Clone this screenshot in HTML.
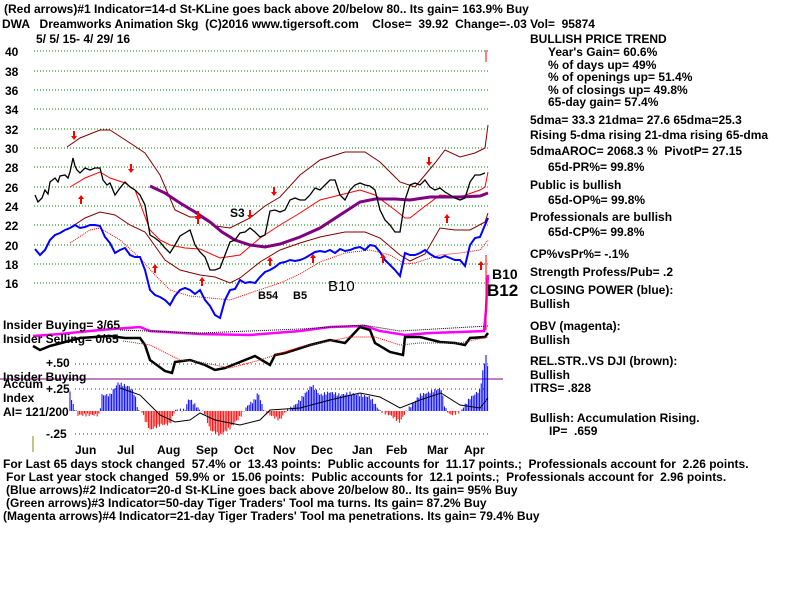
<!DOCTYPE html>
<html><head><meta charset="utf-8"><style>
html,body{margin:0;padding:0;background:#fff;width:800px;height:600px;overflow:hidden}
svg text{font-family:"Liberation Sans",Arial,sans-serif;font-weight:bold;font-size:12px;fill:#000;white-space:pre}
</style></head><body>
<svg id="s" width="800" height="600" viewBox="0 0 800 600" xmlns="http://www.w3.org/2000/svg" xml:space="preserve">
<rect width="800" height="600" fill="#fff"/>
<g stroke="#080" stroke-width="1" stroke-dasharray="1,2">
<line x1="34" y1="51" x2="490" y2="51"/><line x1="34" y1="71" x2="490" y2="71"/>
<line x1="34" y1="90" x2="490" y2="90"/><line x1="34" y1="109" x2="490" y2="109"/>
<line x1="34" y1="129" x2="490" y2="129"/><line x1="34" y1="148" x2="490" y2="148"/>
<line x1="34" y1="167" x2="490" y2="167"/><line x1="34" y1="187" x2="490" y2="187"/>
<line x1="34" y1="206" x2="490" y2="206"/><line x1="34" y1="225" x2="490" y2="225"/>
<line x1="34" y1="245" x2="490" y2="245"/><line x1="34" y1="264" x2="490" y2="264"/>
<line x1="34" y1="283" x2="490" y2="283"/>
</g>
<g>
<text x="5" y="56">40</text><text x="5" y="76">38</text><text x="5" y="95">36</text><text x="5" y="114">34</text>
<text x="5" y="134">32</text><text x="5" y="153">30</text><text x="5" y="172">28</text><text x="5" y="192">26</text>
<text x="5" y="211">24</text><text x="5" y="230">22</text><text x="5" y="250">20</text><text x="5" y="269">18</text>
<text x="5" y="288">16</text>
</g>
<g fill="none">
<polyline stroke="#800000" stroke-width="1" points="67,147 80,138 100,130 110,130 130,143 145,153 160,175 175,210 190,217 200,217 215,226 230,228 250,218 265,206 280,197 300,175 320,160 345,152 365,152 380,162 400,182 415,187 435,163 445,150 460,157 475,153 485,148 488,125"/>
<polyline stroke="#800000" stroke-width="1" points="67,230 85,218 100,212 115,215 130,225 145,232 165,260 180,270 200,275 215,277 230,283 240,278 260,262 280,250 300,243 320,237 345,232 365,232 380,238 400,255 410,261 425,254 440,228 455,230 470,230 485,222 488,213"/>
<polyline stroke="#f00" stroke-width="1" points="70,187 85,178 100,172 110,178 125,183 135,190 150,230 160,240 170,245 185,248 200,249 220,258 240,255 260,238 280,225 300,213 320,200 360,190 375,195 395,210 405,218 410,218 420,210 440,195 460,197 480,190 485,187 488,172"/>
<polyline stroke="#f00" stroke-width="1" stroke-dasharray="1,1" points="70,243 90,230 100,228 120,240 140,258 155,275 170,290 190,296 210,298 230,300 250,293 280,283 300,274 320,262 345,253 370,250 390,255 405,264 415,263 440,255 460,253 480,250 488,240"/>
<polyline stroke="#800080" stroke-width="3" points="150,186 165,193 180,203 195,212 210,222 222,232 235,240 250,245 265,247 280,244 300,237 320,228 340,215 360,202 375,199 395,199 410,200 430,197 460,197 480,196 488,193"/>
<polyline stroke="#000" stroke-width="1.3" points="35,195 38,202 42,198 45,190 48,194 50,182 55,178 58,182 60,176 65,175 68,178 70,172 73,158 75,166 77,170 80,173 85,168 90,170 95,168 100,168 103,180 107,185 110,183 115,195 120,188 125,182 130,187 135,190 140,195 145,205 150,235 155,238 160,242 165,248 170,253 175,245 180,236 185,233 190,230 195,245 200,252 205,257 210,270 215,270 220,268 225,255 230,242 235,240 240,233 245,232 250,228 255,232 260,237 265,235 270,211 275,210 280,212 285,210 290,200 295,198 300,200 305,200 310,195 315,188 320,190 325,185 330,180 335,180 340,195 345,200 350,190 355,185 360,183 365,185 370,186 375,190 380,210 385,220 390,225 395,232 400,232 405,200 410,185 415,183 420,185 425,180 430,187 435,190 440,188 445,192 450,195 455,198 460,200 465,198 470,182 475,175 480,175 485,173"/>
<polyline stroke="#00f" stroke-width="2" points="35,249 40,255 45,250 50,240 55,235 60,233 65,230 70,228 75,225 80,228 85,227 90,225 95,225 100,226 105,237 110,243 115,253 120,250 125,248 130,255 135,257 140,257 145,270 150,290 155,295 160,297 165,300 170,305 175,296 180,290 185,288 190,290 195,294 200,290 205,300 210,306 215,315 220,318 225,300 230,290 235,289 240,280 245,283 250,282 255,283 260,277 265,272 270,270 275,267 280,263 285,262 290,260 295,261 300,260 305,258 310,255 315,252 320,251 325,252 330,250 335,253 340,249 345,251 350,250 355,248 360,247 365,250 370,245 375,246 380,252 385,260 390,265 395,270 400,276 405,253 410,255 415,255 420,253 425,250 430,254 435,257 440,258 445,256 450,258 455,260 460,260 465,266 470,245 475,238 480,237 485,225 488,218"/>
<polyline stroke="#f0f" stroke-width="2.5" points="33,336 60,334 100,330 140,327 150,331 200,334 250,335 300,331 330,327 365,326 380,331 405,335 430,333 460,332 484,331 486,310 487,290 488,275"/>
<polyline stroke="#000" stroke-width="1" stroke-dasharray="1,1" points="120,330 200,333 300,329 363,325 400,331 488,326"/>
<polyline stroke="#000" stroke-width="2.5" points="33,346 40,350 50,346 80,338 110,336 125,338 140,338 145,345 150,360 165,371 172,373 175,362 190,360 205,365 215,370 225,368 240,362 255,356 270,365 275,355 285,353 310,345 330,340 345,343 360,327 370,330 375,343 390,352 403,355 405,337 420,337 440,342 455,343 465,345 470,338 485,337 488,333"/>
<polyline stroke="#f00" stroke-width="1" stroke-dasharray="1,1" points="123,341 150,345 180,360 200,362 230,368 260,360 300,347 350,337 375,337 400,345 420,343 460,343 488,337"/>
</g>
<line x1="486" y1="50" x2="486" y2="62" stroke="#f00"/>
<line x1="486" y1="255" x2="486" y2="330" stroke="#f00"/>
<g stroke="#800080" stroke-width="1" stroke-dasharray="1,3">
<line x1="75" y1="364" x2="490" y2="364"/><line x1="75" y1="389" x2="490" y2="389"/><line x1="75" y1="434" x2="490" y2="434"/>
</g>
<line x1="0" y1="379" x2="503" y2="379" stroke="#800080"/>
<g id="ai"></g>
<polyline fill="none" stroke="#000" stroke-width="1" points="120,388 140,395 160,415 175,422 190,420 200,413 215,420 240,425 260,420 270,410 300,408 330,400 360,393 380,397 400,408 420,400 441,393 460,405 480,408 488,398"/>
<line x1="33" y1="436" x2="33" y2="452" stroke="#880"/>
<g>
<text x="4" y="13">(Red arrows)#1 Indicator=14-d St-KLine goes back above 20/below 80.. Its gain= 163.9% Buy</text>
<text x="2" y="28">DWA   Dreamworks Animation Skg  (C)2016 www.tigersoft.com    Close=  39.92  Change=-.03 Vol=  95874</text>
<text x="36" y="43">5/ 5/ 15- 4/ 29/ 16</text>
<text x="230" y="217">S3</text>
<text x="258" y="299" style="font-size:11px">B54</text>
<text x="293" y="299" style="font-size:11px">B5</text>
<text x="328" y="291" style="font-size:15px;font-weight:normal">B10</text>
<text x="487" y="296" style="font-size:17px">B12</text>
<text x="492" y="279" style="font-size:14px">B10</text>
<text x="3" y="329">Insider Buying= 3/65</text>
<text x="3" y="343">Insider Selling= 0/65</text>
<text x="46" y="367">+.50</text>
<text x="46" y="393">+.25</text>
<text x="46" y="438">-.25</text>
<text x="3" y="381">Insider Buying</text>
<text x="3" y="388">Accum</text>
<text x="3" y="402">Index</text>
<text x="3" y="416">AI= 121/200</text>
<text x="75" y="454">Jun</text><text x="117" y="454">Jul</text><text x="157" y="454">Aug</text><text x="196" y="454">Sep</text><text x="234" y="454">Oct</text><text x="273" y="454">Nov</text><text x="311" y="454">Dec</text><text x="352" y="454">Jan</text><text x="386" y="454">Feb</text><text x="427" y="454">Mar</text><text x="464" y="454">Apr</text>
<text x="3" y="468">For Last 65 days stock changed  57.4% or  13.43 points:  Public accounts for  11.17 points.;  Professionals account for  2.26 points.</text>
<text x="6" y="481">For Last year stock changed  59.9% or  15.06 points:  Public accounts for  12.1 points.;  Professionals account for  2.96 points.</text>
<text x="6" y="494">(Blue arrows)#2 Indicator=20-d St-KLine goes back above 20/below 80.. Its gain= 95% Buy</text>
<text x="6" y="507">(Green arrows)#3 Indicator=50-day Tiger Traders' Tool ma turns. Its gain= 87.2% Buy</text>
<text x="3" y="520">(Magenta arrows)#4 Indicator=21-day Tiger Traders' Tool ma penetrations. Its gain= 79.4% Buy</text>
<text x="530" y="43">BULLISH PRICE TREND</text>
<text x="548" y="56">Year's Gain= 60.6%</text>
<text x="548" y="69">% of days up= 49%</text>
<text x="548" y="81">% of openings up= 51.4%</text>
<text x="548" y="94">% of closings up= 49.8%</text>
<text x="548" y="106">65-day gain= 57.4%</text>
<text x="530" y="124">5dma= 33.3 21dma= 27.6 65dma=25.3</text>
<text x="530" y="139">Rising 5-dma rising 21-dma rising 65-dma</text>
<text x="530" y="155">5dmaAROC= 2068.3 %  PivotP= 27.15</text>
<text x="548" y="171">65d-PR%= 99.8%</text>
<text x="530" y="189">Public is bullish</text>
<text x="548" y="204">65d-OP%= 99.8%</text>
<text x="530" y="221">Professionals are bullish</text>
<text x="548" y="236">65d-CP%= 99.8%</text>
<text x="530" y="258">CP%vsPr%= -.1%</text>
<text x="530" y="276">Strength Profess/Pub= .2</text>
<text x="530" y="294">CLOSING POWER (blue):</text>
<text x="530" y="308">Bullish</text>
<text x="530" y="330">OBV (magenta):</text>
<text x="530" y="344">Bullish</text>
<text x="530" y="365">REL.STR..VS DJI (brown):</text>
<text x="530" y="379">Bullish</text>
<text x="530" y="392">ITRS= .828</text>
<text x="530" y="422">Bullish: Accumulation Rising.</text>
<text x="549" y="435">IP=  .659</text>
</g>
<g id="arr"></g>
</svg>
<script>
var ns="http://www.w3.org/2000/svg";
var k=[[70,392],[73,405],[78,415],[90,415],[100,415],[101,395],[110,395],[118,383],[130,387],[135,395],[138,410],[142,412],[145,420],[150,430],[160,425],[170,424],[175,410],[185,410],[189,398],[195,405],[200,410],[205,413],[210,430],[220,435],[230,428],[240,417],[248,405],[255,400],[258,392],[262,405],[265,412],[270,415],[280,420],[285,412],[295,405],[300,400],[312,385],[320,395],[330,392],[340,395],[350,393],[360,395],[370,397],[380,411],[390,415],[400,422],[405,413],[410,407],[420,395],[430,392],[441,388],[445,408],[450,415],[460,412],[465,405],[470,398],[480,390],[483,370],[487,350],[489,405]];
var g=document.getElementById("ai");
function f(x){for(var i=0;i<k.length-1;i++){if(x>=k[i][0]&&x<=k[i+1][0]){var t=(x-k[i][0])/(k[i+1][0]-k[i][0]);return k[i][1]+t*(k[i+1][1]-k[i][1]);}}return 411;}
for(var x=70;x<=489;x+=1.6){var y=f(x)+(Math.sin(x*1.7)*1.5);var l=document.createElementNS(ns,"line");l.setAttribute("x1",x);l.setAttribute("x2",x);l.setAttribute("y1",411);l.setAttribute("y2",y);l.setAttribute("stroke",y<411?"#00f":"#f00");l.setAttribute("stroke-width","1");g.appendChild(l);}
var a=document.getElementById("arr");
function arrow(x,y,down){var p=document.createElementNS(ns,"path");var d=down?"M"+(x-1)+","+(y-8)+"h2v5h2l-3,4l-3,-4h2z":"M"+(x-1)+","+(y+8)+"h2v-5h2l-3,-4l-3,4h2z";p.setAttribute("d",d);p.setAttribute("fill","#f00");a.appendChild(p);}
[[74,139],[131,172],[198,219],[274,195],[429,165],[250,218]].forEach(function(q){arrow(q[0],q[1],true)});
[[81,196],[155,265],[202,278],[270,258],[313,255],[383,255],[447,215],[481,262],[198,216]].forEach(function(q){arrow(q[0],q[1],false)});
</script>
</body></html>
